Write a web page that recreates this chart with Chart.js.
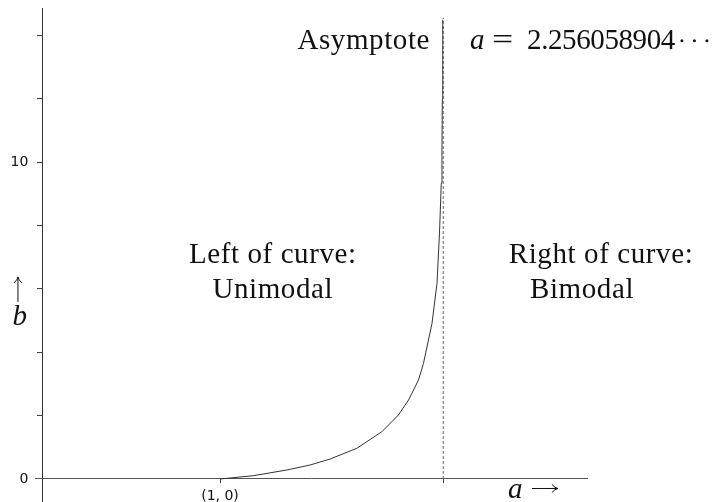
<!DOCTYPE html>
<html lang="en">
<head>
<meta charset="UTF-8">
<title>Unimodal / Bimodal boundary</title>
<script src="https://cdn.jsdelivr.net/npm/chart.js"></script>
<style>
    body { margin: 0; background: #fff; overflow: hidden; }
    /* canvas runs a little past the window so the y axis reaches the bottom edge */
    .wrap { width: 717px; height: 540px; position: relative; margin-top: -12px; }
</style>
</head>
<body>
<div class="wrap"><canvas id="chart"></canvas></div>
<script>
// boundary curve
const curveA = [1.0, 1.188, 1.376, 1.507, 1.620, 1.770, 1.911, 2.004, 2.061, 2.117, 2.145, 2.193, 2.221, 2.235, 2.245, 2.249, 2.251, 2.2535];
const curveB = [0, 0.104, 0.284, 0.442, 0.632, 0.969, 1.494, 2.021, 2.494, 3.126, 3.653, 4.916, 6.18, 7.76, 9.34, 10.39, 12.0, 14.5];

// vertical asymptote
const asymptoteA = [2.256058904, 2.256058904];
const asymptoteB = [0, 14.56];

// ticks
const xTicks = [1, 2.256058904];
const xTickLabels = ['(1, 0)', ''];
const yTicks = [0, 2, 4, 6, 8, 10, 12, 14];
const yTickLabels = ['0', '', '', '', '', '10', '', ''];

const serif = '"Liberation Serif", "Times New Roman", serif';

// text labels and arrows
const annotations = {
    id: 'annotations',
    afterDraw(chart) {
        const ctx = chart.ctx;
        const sx = chart.scales.x, sy = chart.scales.y;
        const px = v => sx.getPixelForValue(v);
        const py = v => sy.getPixelForValue(v);
        ctx.save();
        ctx.fillStyle = '#111';
        ctx.textBaseline = 'alphabetic';
        ctx.letterSpacing = '0.6px';
        ctx.font = '29px ' + serif;

        ctx.textAlign = 'center';
        ctx.fillText('Left of curve:', px(1.297), py(6.82));
        ctx.fillText('Unimodal', px(1.297), py(5.715));
        ctx.fillText('Right of curve:', px(3.144), py(6.82));
        ctx.fillText('Bimodal', px(3.037), py(5.715));

        ctx.textAlign = 'right';
        ctx.fillText('Asymptote', px(2.182), py(13.58));

        // a = 2.256058904 ...
        ctx.textAlign = 'left';
        const x0 = px(2.407);
        const yb = py(13.58);
        ctx.font = 'italic 29px ' + serif;
        ctx.fillText('a', x0, yb);
        ctx.letterSpacing = '0px';
        ctx.font = '29px ' + serif;
        ctx.save();
        ctx.translate(x0 + 22, yb);
        ctx.scale(1.3, 1);
        ctx.fillText('=', 0, 0);
        ctx.restore();
        ctx.letterSpacing = '-0.4px';
        ctx.fillText('2.256058904', x0 + 57, yb);
        const xd = x0 + 57 + ctx.measureText('2.256058904').width + 7;
        for (let i = 0; i < 3; i++) {
            ctx.beginPath();
            ctx.arc(xd + i * 12.5, yb - 8, 1.5, 0, Math.PI * 2);
            ctx.fill();
        }
        ctx.letterSpacing = '0.6px';

        // a -> under the x axis
        ctx.font = 'italic 29px ' + serif;
        ctx.fillText('a', px(2.62), py(-0.6));
        ctx.strokeStyle = '#111';
        ctx.lineWidth = 1;
        const ay = py(-0.6) - 9.5;
        const ax1 = px(2.62) + 24, ax2 = px(2.62) + 50;
        ctx.beginPath();
        ctx.moveTo(ax1, ay); ctx.lineTo(ax2, ay);
        ctx.moveTo(ax2 - 6, ay - 4); ctx.quadraticCurveTo(ax2 - 3, ay - 0.5, ax2, ay);
        ctx.moveTo(ax2 - 6, ay + 4); ctx.quadraticCurveTo(ax2 - 3, ay + 0.5, ax2, ay);
        ctx.stroke();

        // up arrow and b to the left of the y axis
        const bx = px(-0.137);
        const by1 = py(6.38), by2 = py(5.59);
        ctx.beginPath();
        ctx.moveTo(bx, by2); ctx.lineTo(bx, by1);
        ctx.moveTo(bx - 4, by1 + 6); ctx.quadraticCurveTo(bx - 0.5, by1 + 3, bx, by1);
        ctx.moveTo(bx + 4, by1 + 6); ctx.quadraticCurveTo(bx + 0.5, by1 + 3, bx, by1);
        ctx.stroke();
        ctx.textAlign = 'center';
        ctx.fillText('b', bx + 2, py(4.86));
        ctx.restore();
    }
};

new Chart(document.getElementById('chart'), {
    type: 'scatter',
    data: {
        datasets: [{
            data: curveA.map((a, i) => ({ x: a, y: curveB[i] })),
            showLine: true,
            borderColor: '#333',
            borderWidth: 1,
            pointRadius: 0,
            tension: 0,
            order: 1
        }, {
            data: asymptoteA.map((a, i) => ({ x: a, y: asymptoteB[i] })),
            showLine: true,
            borderColor: '#666',
            borderWidth: 1,
            borderDash: [3, 2],
            pointRadius: 0,
            order: 2
        }]
    },
    options: {
        responsive: true,
        maintainAspectRatio: false,
        animation: false,
        layout: { padding: { left: 35, right: 130, top: 20, bottom: 20 } },
        plugins: { legend: { display: false }, tooltip: { enabled: false } },
        scales: {
            x: {
                type: 'linear',
                min: -0.041,
                max: 3.065,
                position: { y: 0 },
                afterBuildTicks: s => { s.ticks = xTicks.map(v => ({ value: v })); },
                grid: { drawOnChartArea: false, drawTicks: true, tickLength: 4, color: '#444' },
                border: { display: true, color: '#555', width: 1 },
                ticks: {
                    autoSkip: false,
                    maxRotation: 0,
                    padding: 5,
                    color: '#111',
                    font: { family: 'DejaVu Sans', size: 14 },
                    callback: (v, i) => xTickLabels[i]
                }
            },
            y: {
                type: 'linear',
                min: -0.916,
                max: 14.87,
                position: { x: 0 },
                afterBuildTicks: s => { s.ticks = yTicks.map(v => ({ value: v })); },
                grid: { drawOnChartArea: false, drawTicks: true, tickLength: 5, color: '#444' },
                border: { display: true, color: '#333', width: 1 },
                ticks: {
                    autoSkip: false,
                    color: '#111',
                    font: { family: 'DejaVu Sans', size: 14 },
                    // em space keeps the label clear of the tick mark
                    callback: (v, i) => yTickLabels[i] ? yTickLabels[i] + '\u2003' : ''
                }
            }
        }
    },
    plugins: [annotations]
});
</script>
</body>
</html>
